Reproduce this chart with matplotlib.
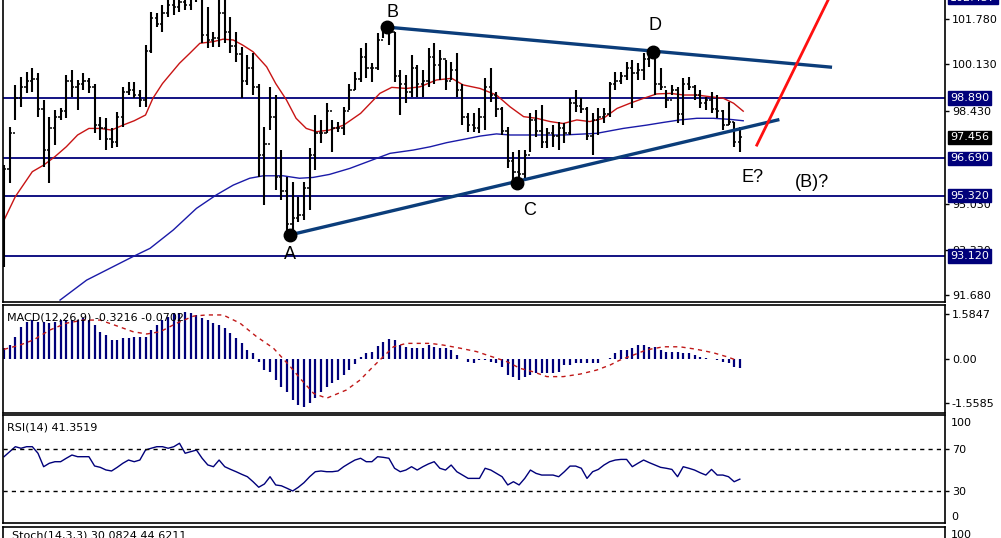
import matplotlib
matplotlib.use("Agg")
import matplotlib.pyplot as plt
from matplotlib.transforms import blended_transform_factory

# daily bars (bar index 0 .. 130)
highs = [96.44, 97.84, 99.37, 99.67, 99.85, 99.97, 99.79, 98.82, 98.21, 98.45,
         98.51, 99.73, 99.91, 99.55, 99.79, 99.61, 99.42, 98.21, 98.15, 97.78,
         98.39, 99.30, 99.49, 99.49, 99.18, 100.82, 102.04, 101.98, 102.28, 102.70,
         102.80, 102.90, 102.80, 102.80, 102.90, 102.80, 102.20, 101.31, 102.60, 102.60,
         101.86, 101.31, 100.76, 100.46, 100.52, 99.42, 97.84, 99.30, 99.00, 96.99,
         96.02, 95.83, 95.29, 95.83, 97.05, 98.27, 98.09, 98.70, 98.09, 98.02,
         98.57, 99.42, 99.85, 100.70, 100.89, 100.16, 101.25, 101.62, 101.55, 101.31,
         99.91, 99.73, 100.46, 100.09, 99.91, 100.70, 100.89, 100.64, 100.28, 100.22,
         100.52, 99.42, 98.33, 98.33, 98.51, 99.61, 99.97, 99.12, 98.57, 97.84,
         96.93, 96.99, 96.99, 98.33, 98.45, 98.63, 97.78, 97.90, 98.02, 97.96,
         98.88, 99.18, 98.88, 98.57, 98.33, 98.51, 98.51, 99.49, 99.85, 99.85,
         100.22, 100.28, 100.16, 100.52, 100.70, 100.34, 99.97, 99.18, 99.37, 99.30,
         99.61, 99.67, 99.37, 99.18, 98.94, 99.12, 99.00, 98.45, 98.76, 98.02,
         97.84]
lows = [92.73, 95.77, 98.09, 98.57, 99.06, 99.12, 98.21, 96.38, 95.77, 97.17,
        98.09, 98.15, 98.94, 98.45, 99.18, 99.06, 97.60, 97.36, 96.99, 97.05,
        97.11, 97.84, 99.00, 98.88, 98.57, 98.57, 100.52, 101.49, 101.31, 101.86,
        101.92, 102.04, 102.10, 102.10, 102.41, 100.89, 100.70, 100.76, 100.76, 100.89,
        100.52, 100.22, 98.88, 99.37, 99.00, 96.02, 94.98, 97.72, 95.53, 95.17,
        93.95, 93.95, 94.37, 94.44, 94.80, 96.26, 97.23, 97.60, 96.93, 97.66,
        97.54, 98.45, 99.18, 99.49, 99.61, 99.49, 99.91, 101.07, 100.82, 99.49,
        98.27, 98.70, 98.94, 98.94, 98.94, 99.30, 99.42, 99.55, 99.18, 99.55,
        98.94, 97.90, 97.66, 97.66, 97.60, 97.72, 98.76, 98.21, 97.54, 96.32,
        95.89, 95.89, 95.96, 96.93, 97.48, 97.05, 97.05, 97.11, 96.99, 97.23,
        97.54, 98.39, 98.33, 97.36, 96.81, 97.54, 97.96, 98.21, 99.18, 99.42,
        99.55, 98.51, 99.55, 99.55, 100.03, 99.00, 99.18, 98.51, 99.00, 97.96,
        97.90, 99.18, 98.82, 98.51, 98.45, 98.33, 98.15, 97.72, 97.90, 97.11,
        96.93]
closes = [96.30, 97.60, 98.90, 99.30, 99.50, 99.60, 98.50, 97.00, 97.80, 98.20,
          98.40, 99.50, 99.30, 99.40, 99.50, 99.30, 97.90, 97.80, 97.40, 97.30,
          98.20, 99.10, 99.20, 99.00, 98.80, 100.60, 101.80, 101.60, 102.00, 102.30,
          102.20, 102.40, 102.30, 102.50, 102.60, 101.20, 101.00, 101.10, 102.00, 101.30,
          100.80, 100.50, 99.50, 100.00, 99.30, 96.80, 97.20, 98.20, 96.00, 95.50,
          94.30, 94.50, 94.60, 95.60, 96.80, 97.60, 97.60, 98.40, 97.80, 97.80,
          98.40, 99.20, 99.60, 100.40, 100.00, 100.00, 101.00, 101.40, 101.30, 99.70,
          99.40, 99.10, 100.00, 99.40, 99.50, 100.40, 100.10, 100.30, 99.50, 99.90,
          99.20, 98.20, 97.90, 97.80, 98.20, 99.30, 99.00, 98.50, 97.70, 96.60,
          96.20, 96.10, 96.80, 98.10, 97.70, 97.30, 97.60, 97.50, 97.80, 97.60,
          98.70, 98.60, 98.50, 97.50, 98.10, 98.20, 98.30, 99.40, 99.50, 99.70,
          100.00, 99.80, 99.90, 100.30, 100.40, 99.40, 99.30, 98.80, 99.20, 98.30,
          99.40, 99.30, 99.00, 98.70, 98.80, 98.50, 98.40, 97.90, 98.00, 97.30,
          97.456]
# each bar opens where the previous one closed
opens = [96.00] + closes[:-1]

# moving averages (bar index, price)
red_ma_x = [0, 2, 5, 7, 9, 11, 13, 15, 17, 19, 21, 23, 25, 26.3, 28, 31, 32.8, 34.6, 37, 38.7,
            40.5, 42.2, 44, 46.4, 48, 49.9, 51.6, 53.4, 55.2, 57.5, 60, 63, 66.4, 68.5, 71.1, 73.5,
            76.4, 79.1, 81.1, 84.1, 87, 89.4, 91.8, 94.1, 96.5, 98.8, 101.2, 103.5, 105.9, 108.3,
            110.6, 113, 115.3, 117.7, 120.1, 122.4, 124.7, 127.1, 128.9, 130.6]
red_ma_y = [94.43, 95.29, 96.20, 96.44, 96.75, 97.11, 97.54, 97.78, 97.78, 97.72, 97.90, 98.06,
            98.27, 98.88, 99.42, 100.16, 100.52, 100.89, 100.95, 101.04, 101.01, 100.82, 100.58,
            100.03, 99.42, 98.82, 98.15, 97.78, 97.66, 97.72, 97.90, 98.33, 99.06, 99.28, 99.24,
            99.30, 99.55, 99.61, 99.37, 99.24, 99.00, 98.57, 98.21, 98.15, 98.03, 97.96, 98.09,
            98.03, 98.15, 98.51, 98.70, 98.88, 99.04, 99.06, 99.00, 99.00, 98.94, 98.88, 98.70, 98.41]
blue_ma_x = [9.9, 14.6, 18.7, 22.8, 25.8, 29.9, 34, 37.5, 40.5, 43.4, 45.8, 49.3, 52.2, 54.6,
             57.5, 61.1, 65.1, 68.2, 72.3, 75.3, 78.2, 81.2, 84.1, 87, 89.4, 93, 98.8, 104.7,
             109.4, 113.5, 116.5, 119.4, 122.4, 125.3, 128.3, 130.6]
blue_ma_y = [91.51, 92.24, 92.67, 93.10, 93.40, 94.07, 94.86, 95.35, 95.71, 95.96, 96.05, 96.05,
             95.96, 95.99, 96.10, 96.32, 96.63, 96.87, 96.99, 97.11, 97.26, 97.38, 97.50, 97.58,
             97.54, 97.54, 97.54, 97.60, 97.78, 97.90, 98.00, 98.09, 98.15, 98.15, 98.11, 98.06]

# horizontal levels and the current price
levels = [98.890, 96.690, 95.320, 93.120]
top_level = 102.56
last_price = 97.456
price_ticks = [101.780, 100.130, 98.430, 95.030, 93.330, 91.680]

# wave points and trend lines (bar index, price)
points = {"A": (50.5, 93.89), "B": (67.7, 101.48), "C": (90.6, 95.79), "D": (114.7, 100.57)}
upper_line = [(67.7, 101.48), (146.0, 100.02)]
lower_line = [(50.5, 93.89), (136.7, 98.09)]
red_arrow = [(133.0, 97.17), (146.5, 102.85)]
labels = [("B", 68.6, 102.03), ("D", 115.0, 101.55), ("A", 50.5, 93.16),
          ("C", 92.9, 94.80), ("E?", 132.2, 95.97), ("(B)?", 142.8, 95.79)]

# MACD(12,26,9)
macd_hist = [0.38, 0.49, 0.79, 1.14, 1.31, 1.37, 1.31, 1.31, 1.26, 1.31,
             1.37, 1.37, 1.37, 1.37, 1.43, 1.37, 1.20, 0.96, 0.85, 0.67,
             0.67, 0.73, 0.73, 0.79, 0.79, 0.79, 1.02, 1.20, 1.37, 1.49,
             1.61, 1.61, 1.66, 1.61, 1.55, 1.43, 1.37, 1.26, 1.20, 1.08,
             0.90, 0.73, 0.55, 0.32, 0.20, -0.10, -0.39, -0.45, -0.74, -0.97,
             -1.15, -1.44, -1.62, -1.68, -1.56, -1.38, -1.15, -0.97, -0.86, -0.74,
             -0.56, -0.39, -0.18, 0.06, 0.20, 0.26, 0.46, 0.61, 0.69, 0.67,
             0.49, 0.43, 0.38, 0.38, 0.38, 0.49, 0.43, 0.38, 0.38, 0.32,
             0.14, 0.01, -0.09, -0.15, -0.02, -0.02, -0.09, -0.15, -0.27, -0.56,
             -0.62, -0.74, -0.62, -0.56, -0.50, -0.50, -0.50, -0.50, -0.45, -0.21,
             -0.21, -0.15, -0.15, -0.15, -0.15, -0.15, 0.01, 0.04, 0.20, 0.32,
             0.32, 0.38, 0.49, 0.49, 0.43, 0.43, 0.32, 0.26, 0.26, 0.26,
             0.22, 0.20, 0.14, 0.08, 0.04, 0.01, -0.05, -0.09, -0.15, -0.27,
             -0.32]
signal_x = [0, 2.8, 5.2, 8.1, 11, 14, 17, 20, 22.8, 25.2, 27.6, 30.5, 33.5, 35.8, 38.7, 41.7,
            44.6, 47.6, 50.5, 52.3, 54.7, 57, 60.5, 62.9, 65.2, 67, 68.8, 71.1, 75.3, 77.6,
            80.6, 83.5, 85.3, 88.8, 91.2, 93.5, 95.9, 98.8, 101.8, 104.7, 107.1, 108.8, 111.2,
            113.5, 116.5, 119.4, 122.4, 125.3, 127.7, 129.4]
signal_y = [0.34, 0.49, 0.67, 1.02, 1.26, 1.37, 1.37, 1.16, 0.96, 0.88, 0.96, 1.26, 1.51, 1.55,
            1.55, 1.26, 0.79, 0.38, -0.25, -0.68, -1.21, -1.38, -1.09, -0.74, -0.27, 0.08, 0.43,
            0.55, 0.55, 0.49, 0.38, 0.26, 0.14, -0.09, -0.33, -0.45, -0.62, -0.62, -0.53, -0.39,
            -0.21, -0.04, 0.14, 0.32, 0.43, 0.43, 0.34, 0.22, 0.08, -0.04]

# RSI(14)
rsi = [62.9, 67.7, 72.5, 71.0, 72.5, 72.5, 66.2, 53.3, 56.6, 58.1,
       58.1, 61.4, 64.5, 62.9, 62.9, 62.9, 54.0, 52.7, 50.2, 49.2,
       52.7, 56.6, 59.7, 58.1, 59.7, 69.3, 71.0, 72.5, 72.5, 71.0,
       72.5, 75.8, 66.2, 67.7, 69.3, 61.4, 55.0, 53.3, 59.7, 53.3,
       50.8, 48.5, 46.0, 43.7, 38.9, 33.6, 36.7, 43.7, 35.8, 35.0,
       32.6, 30.0, 33.6, 38.0, 43.7, 48.5, 49.2, 48.5, 48.5, 49.2,
       53.3, 56.6, 59.7, 61.4, 58.1, 58.1, 62.9, 62.3, 61.4, 51.8,
       48.5, 50.1, 53.3, 50.1, 53.3, 56.0, 58.1, 51.8, 50.1, 54.9,
       48.5, 45.3, 42.1, 42.1, 42.1, 51.8, 50.1, 46.9, 43.7, 35.8,
       38.9, 35.8, 42.1, 50.1, 46.9, 45.3, 45.3, 45.3, 43.7, 48.5,
       53.9, 53.9, 51.8, 42.1, 48.5, 50.7, 54.9, 58.1, 59.7, 60.3,
       60.3, 53.3, 56.6, 59.7, 57.2, 54.9, 52.7, 51.8, 50.7, 43.7,
       53.3, 51.8, 50.1, 47.5, 45.3, 50.7, 45.3, 45.3, 43.7, 38.9,
       41.35]

W, H = 1001, 538
NAVY = "#00007a"


def rect(x0, y0, x1, y1):
    return [x0 / W, 1 - y1 / H, (x1 - x0) / W, (y1 - y0) / H]


fig = plt.figure(figsize=(W / 100, H / 100), dpi=100)
fig.patch.set_facecolor("white")
ax = fig.add_axes(rect(3, -6, 945, 302))
ax_macd = fig.add_axes(rect(3, 305, 945, 413))
ax_rsi = fig.add_axes(rect(3, 415, 945, 523))
ax_st = fig.add_axes(rect(3, 527, 945, 560))

for a in (ax, ax_macd, ax_rsi, ax_st):
    a.set_xlim(-0.18, 166.25)
    a.set_xticks([])
    a.yaxis.tick_right()
    a.tick_params(axis="y", length=3, width=1, labelsize=8, pad=2, colors="black")
    for s in a.spines.values():
        s.set_color("black")
        s.set_linewidth(1.2)

# ---- price panel ----
ax.set_ylim(91.44, 102.69)
xs = list(range(len(highs)))
for lv in levels:
    ax.axhline(lv, color=NAVY, lw=1.3, zorder=1)
ax.plot(red_ma_x, red_ma_y, color="#c81414", lw=1.0, zorder=2)
ax.plot(blue_ma_x, blue_ma_y, color="#1a1aa8", lw=1.0, zorder=2)
ax.vlines(xs, lows, highs, color="black", lw=1.5, zorder=3)
ax.hlines(opens, [x - 0.4 for x in xs], xs, color="black", lw=1.1, zorder=3)
ax.hlines(closes, xs, [x + 0.4 for x in xs], color="black", lw=1.1, zorder=3)

for line in (upper_line, lower_line):
    ax.plot([p[0] for p in line], [p[1] for p in line], color="#0b3d7a", lw=2.4, zorder=4)
ax.plot([p[0] for p in red_arrow], [p[1] for p in red_arrow], color="#ff1010", lw=2.0,
        zorder=4, clip_on=False)
for name, (px, py) in points.items():
    ax.plot(px, py, "o", color="black", ms=9, zorder=5)
for txt, tx, ty in labels:
    ax.text(tx, ty, txt, fontsize=13, family="Liberation Sans", ha="center", va="center",
            color="black", zorder=6)

ax.set_yticks(price_ticks)
ax.set_yticklabels([f"{t:.3f}" for t in price_ticks])
tr = blended_transform_factory(ax.transAxes, ax.transData)
box_x = 1 + 5 / 942
box_texts = [(lv, f"{lv:.3f}") for lv in levels] + [(top_level, "102.437")]
for lv, txt in box_texts:
    ax.text(box_x, lv, txt, transform=tr, fontsize=8, color="white", va="center", ha="left",
            clip_on=False, zorder=10,
            bbox=dict(boxstyle="square,pad=0.15", fc=NAVY, ec=NAVY))
ax.text(box_x, last_price, f"{last_price:.3f}", transform=tr, fontsize=8, color="white",
        va="center", ha="left", clip_on=False, zorder=10,
        bbox=dict(boxstyle="square,pad=0.15", fc="black", ec="black"))
ax.spines["top"].set_visible(False)

# ---- MACD panel ----
ax_macd.set_ylim(-1.90, 1.90)
ax_macd.vlines(xs, 0, macd_hist, color=NAVY, lw=1.6)
ax_macd.plot(signal_x, signal_y, color="#c01818", lw=1.0, ls=(0, (3, 3)))
ax_macd.set_yticks([1.5847, 0.0, -1.5585])
ax_macd.set_yticklabels(["1.5847", "0.00", "-1.5585"])
ax_macd.text(0.004, 0.93, "MACD(12,26,9) -0.3216 -0.0702", transform=ax_macd.transAxes,
             fontsize=8, va="top", ha="left")

# ---- RSI panel ----
ax_rsi.set_ylim(-0.7, 102.9)
ax_rsi.plot(xs, rsi, color=NAVY, lw=1.0)
for lv in (70, 30):
    ax_rsi.axhline(lv, color="black", lw=1.0, ls=(0, (3, 3)))
ax_rsi.set_yticks([70, 30])
ax_rsi.set_yticklabels(["70", "30"])
rtr = blended_transform_factory(ax_rsi.transAxes, ax_rsi.transData)
ax_rsi.text(1 + 6 / 942, 100, "100", transform=rtr, fontsize=8, va="top", ha="left")
ax_rsi.text(1 + 6 / 942, 0, "0", transform=rtr, fontsize=8, va="bottom", ha="left")
ax_rsi.text(0.004, 0.93, "RSI(14) 41.3519", transform=ax_rsi.transAxes,
            fontsize=8, va="top", ha="left")

# ---- stochastic panel (mostly cut off by the image edge) ----
ax_st.set_ylim(0, 100)
ax_st.set_yticks([])
fig.text(12 / W, 1 - 531 / H, "Stoch(14,3,3) 30.0824 44.6211", fontsize=8, va="top", ha="left")
fig.text(951 / W, 1 - 530 / H, "100", fontsize=8, va="top", ha="left")

fig.savefig("out.png", dpi=100)
